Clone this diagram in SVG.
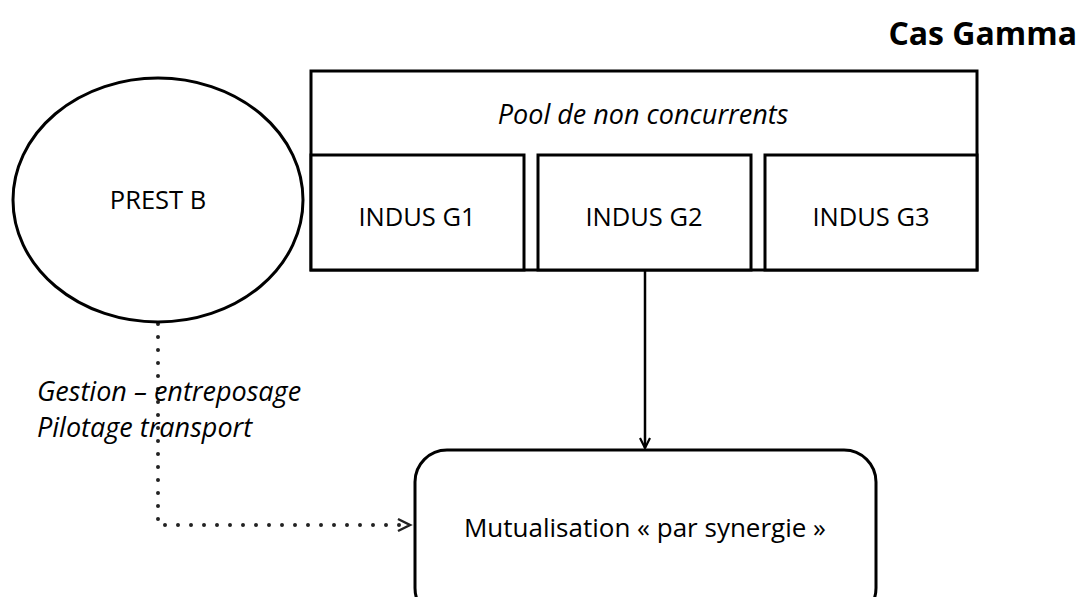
<svg xmlns="http://www.w3.org/2000/svg" width="1083" height="597" viewBox="0 0 1083 597">
<style>
.box{fill:#fff;stroke:#000;stroke-width:3}
.t{font-family:"Open Sans","Liberation Sans",sans-serif;font-size:25.5px;fill:#000}
.it{font-style:italic;font-size:27px}
.conn{fill:none;stroke:#000;stroke-width:2.5}
.dot{fill:none;stroke:#222;stroke-width:4;stroke-dasharray:0 13;stroke-linecap:round}
</style>
<defs>
<marker id="arr" viewBox="0 0 12 12" refX="11" refY="6" markerWidth="12" markerHeight="12" markerUnits="userSpaceOnUse" orient="auto">
<path d="M1,1 L11,6 L1,11" fill="none" stroke="#000" stroke-width="2.2"/>
</marker>
</defs>
<text x="1077" y="45" text-anchor="end" style="font-family:'Open Sans','Liberation Sans',sans-serif;font-weight:bold;font-size:32px">Cas Gamma</text>
<g id="connectors">
<path class="dot" d="M158,324 L158,525 L404,525"/>
<path d="M398,519 L410,525 L398,531" fill="none" stroke="#222" stroke-width="2.5"/>
<path class="conn" d="M645,270 L645,448" marker-end="url(#arr)"/>
</g>
<g id="prest-b">
<ellipse class="box" cx="158" cy="200" rx="145" ry="122"/>
<text class="t" x="158" y="209" text-anchor="middle">PREST B</text>
</g>
<g id="pool">
<rect class="box" x="311" y="71" width="666" height="199"/>
<text class="t it" x="643" y="124" text-anchor="middle">Pool de non concurrents</text>
</g>
<g id="indus-g1">
<rect class="box" x="311" y="155" width="213" height="115"/>
<text class="t" x="417" y="226" text-anchor="middle">INDUS G1</text>
</g>
<g id="indus-g2">
<rect class="box" x="538" y="155" width="213" height="115"/>
<text class="t" x="644" y="226" text-anchor="middle">INDUS G2</text>
</g>
<g id="indus-g3">
<rect class="box" x="765" y="155" width="212" height="115"/>
<text class="t" x="871" y="226" text-anchor="middle">INDUS G3</text>
</g>
<g id="label">
<text class="t it" x="37" y="401">Gestion – entreposage</text>
<text class="t it" x="37" y="437">Pilotage transport</text>
</g>
<g id="mutualisation">
<rect class="box" x="415" y="450" width="461" height="170" rx="32" ry="32"/>
<text class="t" x="645" y="537" text-anchor="middle" style="font-size:26px">Mutualisation « par synergie »</text>
</g>
</svg>
